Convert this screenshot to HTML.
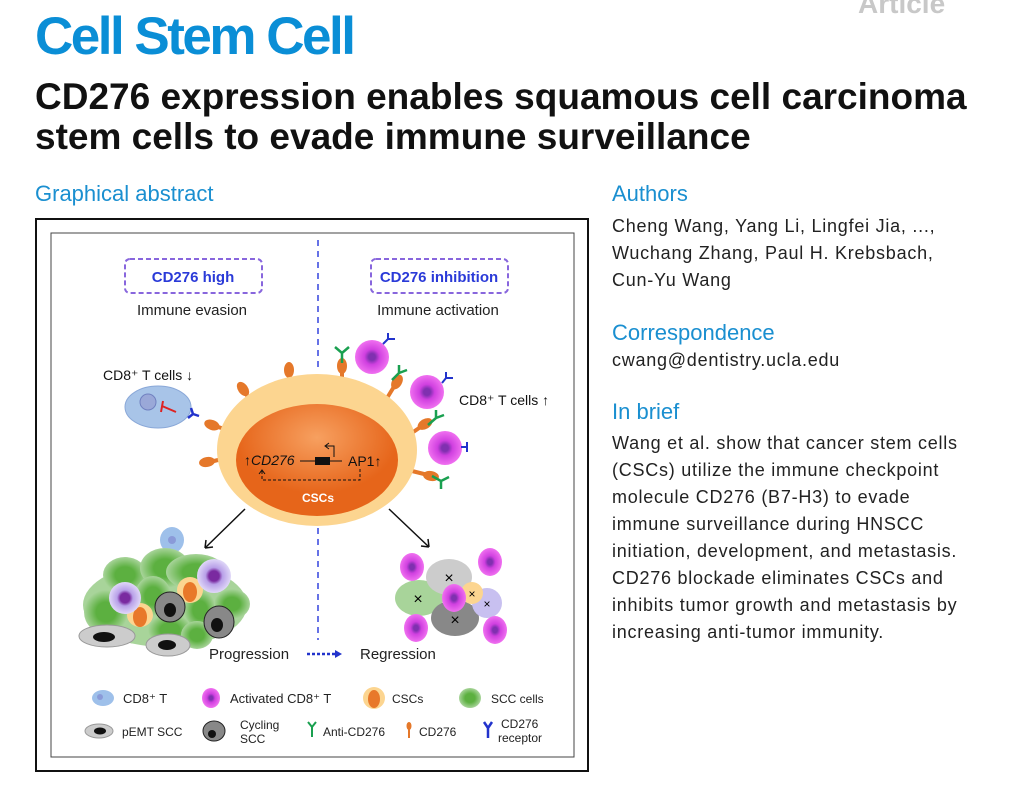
<!DOCTYPE html>
<html><head><meta charset="utf-8"><style>
body{margin:0;width:1025px;height:785px;background:#fff;font-family:"Liberation Sans",sans-serif;overflow:hidden;position:relative}
.a{position:absolute;white-space:nowrap}
.h{color:#1a8fd0;font-size:22px}
.p{font-size:18px;line-height:27px;color:#222;letter-spacing:0.75px}
</style></head><body>
<div class="a" style="left:858px;top:-12px;font-size:28px;font-weight:bold;color:#c8c8c8">Article</div>
<div class="a" style="left:35px;top:6px;font-size:53px;font-weight:bold;color:#0a8ed6;letter-spacing:-2.5px">Cell Stem Cell</div>
<div class="a" style="left:35px;top:77px;font-size:37px;font-weight:bold;color:#111;line-height:40px;letter-spacing:0px">CD276 expression enables squamous cell carcinoma<br>stem cells to evade immune surveillance</div>
<div class="a h" style="left:612px;top:181px;">Authors</div>
<div class="a h" style="left:35px;top:181px">Graphical abstract</div>
<div class="a p" style="left:612px;top:213px">Cheng Wang, Yang Li, Lingfei Jia, ...,<br>Wuchang Zhang, Paul H. Krebsbach,<br>Cun-Yu Wang</div>
<div class="a h" style="left:612px;top:320px">Correspondence</div>
<div class="a p" style="left:612px;top:347px">cwang@dentistry.ucla.edu</div>
<div class="a h" style="left:612px;top:399px">In brief</div>
<div class="a p" style="left:612px;top:430px">Wang et al. show that cancer stem cells<br>(CSCs) utilize the immune checkpoint<br>molecule CD276 (B7-H3) to evade<br>immune surveillance during HNSCC<br>initiation, development, and metastasis.<br>CD276 blockade eliminates CSCs and<br>inhibits tumor growth and metastasis by<br>increasing anti-tumor immunity.</div>
<svg class="a" style="left:0;top:0" width="600" height="785" font-family="Liberation Sans, sans-serif">
<defs>
<radialGradient id="mg"><stop offset="0.2" stop-color="#8030b0"/><stop offset="0.45" stop-color="#d040e0"/><stop offset="1" stop-color="#f070f0"/></radialGradient>
<radialGradient id="og" cx="0.5" cy="0.3"><stop offset="0" stop-color="#f7a060"/><stop offset="1" stop-color="#e6651a"/></radialGradient>
<radialGradient id="gg"><stop offset="0.45" stop-color="#5cb040"/><stop offset="1" stop-color="#a8d49a"/></radialGradient>
<radialGradient id="pg"><stop offset="0.3" stop-color="#7a2aa0"/><stop offset="0.5" stop-color="#b8a0e8"/><stop offset="1" stop-color="#e0d8f8"/></radialGradient>
</defs>
<rect x="36" y="219" width="552" height="552" fill="none" stroke="#111" stroke-width="2"/>
<rect x="51" y="233" width="523" height="524" fill="none" stroke="#444" stroke-width="1"/>
<line x1="318" y1="240" x2="318" y2="372" stroke="#3344dd" stroke-width="1.5" stroke-dasharray="6,5"/>
<line x1="318" y1="528" x2="318" y2="640" stroke="#3344dd" stroke-width="1.5" stroke-dasharray="6,5"/>
<rect x="125" y="259" width="137" height="34" rx="5" fill="none" stroke="#8866dd" stroke-width="2" stroke-dasharray="5,3"/>
<text x="193" y="282" text-anchor="middle" font-size="15" font-weight="bold" fill="#2a3ad8">CD276 high</text>
<text x="192" y="315" text-anchor="middle" font-size="15" fill="#222">Immune evasion</text>
<rect x="371" y="259" width="137" height="34" rx="5" fill="none" stroke="#8866dd" stroke-width="2" stroke-dasharray="5,3"/>
<text x="439" y="282" text-anchor="middle" font-size="15" font-weight="bold" fill="#2a3ad8">CD276 inhibition</text>
<text x="438" y="315" text-anchor="middle" font-size="15" fill="#222">Immune activation</text>
<g fill="#e5782a" stroke="#e5782a" stroke-width="4">
<line x1="290" y1="390" x2="289" y2="372"/><ellipse cx="289" cy="370" rx="5" ry="8" stroke="none"/>
<line x1="254" y1="406" x2="244" y2="391"/><ellipse cx="243" cy="389" rx="5" ry="8" stroke="none" transform="rotate(-35 243 389)"/>
<line x1="234" y1="432" x2="215" y2="426"/><ellipse cx="212" cy="425" rx="8" ry="5" stroke="none" transform="rotate(20 212 425)"/>
<line x1="226" y1="458" x2="210" y2="462"/><ellipse cx="207" cy="462" rx="8" ry="5" stroke="none" transform="rotate(-10 207 462)"/>
<line x1="342" y1="388" x2="342" y2="368"/><ellipse cx="342" cy="366" rx="5" ry="8" stroke="none"/>
<line x1="384" y1="403" x2="395" y2="385"/><ellipse cx="397" cy="382" rx="5" ry="8" stroke="none" transform="rotate(30 397 382)"/>
<line x1="406" y1="437" x2="422" y2="426"/><ellipse cx="425" cy="424" rx="8" ry="5" stroke="none" transform="rotate(-30 425 424)"/>
<line x1="408" y1="470" x2="428" y2="475"/><ellipse cx="431" cy="476" rx="8" ry="5" stroke="none" transform="rotate(10 431 476)"/>
</g>
<ellipse cx="317" cy="450" rx="100" ry="76" fill="#fcd590"/>
<ellipse cx="317" cy="460" rx="81" ry="56" fill="url(#og)"/>
<text x="244" y="465" font-size="14" fill="#111">↑<tspan font-style="italic">CD276</tspan></text>
<line x1="300" y1="461" x2="342" y2="461" stroke="#111"/><rect x="315" y="457" width="15" height="8" fill="#111"/>
<path d="M334,457 V446 H326 M329,443 L325,446 L329,449" fill="none" stroke="#111" stroke-width="1"/>
<text x="348" y="466" font-size="14" fill="#111">AP1↑</text>
<path d="M262,471 V480 H360 V469" fill="none" stroke="#111" stroke-dasharray="3,2"/>
<path d="M259,474 L262,470 L265,474" fill="none" stroke="#111"/>
<text x="318" y="502" text-anchor="middle" font-size="12" font-weight="bold" fill="#fff">CSCs</text>
<text x="103" y="380" font-size="14" fill="#111">CD8⁺ T cells ↓</text>
<ellipse cx="158" cy="407" rx="33" ry="21" fill="#a8c4e8" stroke="#8aa8d8"/>
<circle cx="148" cy="402" r="8" fill="#9aa8d8" stroke="#7080c0"/>
<path d="M162,406 L176,412 M163,401 L161,412" stroke="#dd2222" stroke-width="2"/>
<path d="M188,418 L193,414 M193,414 L191,408 M193,414 L199,416" stroke="#2233cc" stroke-width="2.5" fill="none"/>
<ellipse cx="372" cy="357" rx="17" ry="17" fill="url(#mg)"/>
<ellipse cx="427" cy="392" rx="17" ry="17" fill="url(#mg)"/>
<ellipse cx="445" cy="448" rx="17" ry="17" fill="url(#mg)"/>
<g stroke="#1aa050" stroke-width="2.5" fill="none">
<path d="M342,363 V353 M342,353 L335,347 M342,353 L349,347"/>
<path d="M392,380 L399,373 M399,373 V365 M399,373 L407,370"/>
<path d="M428,425 L436,418 M436,418 L436,410 M436,418 L444,415"/>
<path d="M432,476 L441,481 M441,481 L449,477 M441,481 L441,489"/>
</g>
<g stroke="#2233cc" stroke-width="2" fill="none">
<path d="M383,344 L388,339 M388,339 H395 M388,339 V333"/>
<path d="M442,383 L446,378 M446,378 H453 M446,378 V372"/>
<path d="M461,447 H467 M467,447 V442 M467,447 V452"/>
</g>
<text x="459" y="405" font-size="14" fill="#111">CD8⁺ T cells ↑</text>
<path d="M245,509 L205,548 M205,548 L206,540 M205,548 L213,547" stroke="#111" stroke-width="1.5" fill="none"/>
<path d="M389,509 L429,547 M429,547 L421,546 M429,547 L428,539" stroke="#111" stroke-width="1.5" fill="none"/>
<ellipse cx="172" cy="540" rx="12" ry="13" fill="#9ec0ea"/><circle cx="172" cy="540" r="4" fill="#8a9ad8"/>
<ellipse cx="165" cy="605" rx="82" ry="42" fill="#a8d49a"/>
<ellipse cx="125" cy="575" rx="22" ry="18" fill="url(#gg)"/>
<ellipse cx="165" cy="568" rx="25" ry="20" fill="url(#gg)"/>
<ellipse cx="196" cy="572" rx="30" ry="18" fill="url(#gg)"/>
<ellipse cx="106" cy="612" rx="22" ry="22" fill="url(#gg)"/>
<ellipse cx="153" cy="596" rx="18" ry="20" fill="url(#gg)"/>
<ellipse cx="200" cy="610" rx="16" ry="20" fill="url(#gg)"/>
<ellipse cx="170" cy="630" rx="22" ry="16" fill="url(#gg)"/>
<ellipse cx="232" cy="604" rx="18" ry="15" fill="url(#gg)"/>
<ellipse cx="197" cy="635" rx="16" ry="14" fill="url(#gg)"/>
<ellipse cx="190" cy="590" rx="13" ry="13" fill="#fcd590"/><ellipse cx="190" cy="592" rx="7" ry="10" fill="#e8782a"/>
<ellipse cx="140" cy="615" rx="13" ry="12" fill="#fcd590"/><ellipse cx="140" cy="617" rx="7" ry="10" fill="#e8782a"/>
<circle cx="125" cy="598" r="16" fill="url(#pg)"/>
<circle cx="214" cy="576" r="17" fill="url(#pg)"/>
<ellipse cx="170" cy="607" rx="15" ry="15" fill="#888" stroke="#222"/><ellipse cx="170" cy="610" rx="6" ry="7" fill="#111"/>
<ellipse cx="219" cy="622" rx="15" ry="16" fill="#888" stroke="#222"/><ellipse cx="217" cy="625" rx="6" ry="7" fill="#111"/>
<ellipse cx="107" cy="636" rx="28" ry="11" fill="#ccc" stroke="#999"/><ellipse cx="104" cy="637" rx="11" ry="5" fill="#111"/>
<ellipse cx="168" cy="645" rx="22" ry="11" fill="#ccc" stroke="#999"/><ellipse cx="167" cy="645" rx="9" ry="5" fill="#111"/>
<ellipse cx="419" cy="598" rx="24" ry="18" fill="#a8d49a"/><text x="418" y="604" font-size="16" text-anchor="middle">×</text>
<ellipse cx="449" cy="577" rx="23" ry="18" fill="#ccc"/><text x="449" y="583" font-size="16" text-anchor="middle">×</text>
<ellipse cx="455" cy="618" rx="24" ry="18" fill="#888"/><text x="455" y="625" font-size="16" text-anchor="middle">×</text>
<circle cx="487" cy="603" r="15" fill="#c8c0f0"/><text x="487" y="608" font-size="12" text-anchor="middle">×</text>
<circle cx="472" cy="593" r="11" fill="#fcd590"/><text x="472" y="598" font-size="12" text-anchor="middle">×</text>
<ellipse cx="454" cy="598" rx="12" ry="14" fill="url(#mg)"/>
<ellipse cx="412" cy="567" rx="12" ry="14" fill="url(#mg)"/>
<ellipse cx="490" cy="562" rx="12" ry="14" fill="url(#mg)"/>
<ellipse cx="416" cy="628" rx="12" ry="14" fill="url(#mg)"/>
<ellipse cx="495" cy="630" rx="12" ry="14" fill="url(#mg)"/>
<text x="209" y="659" font-size="15" fill="#222">Progression</text>
<path d="M307,654 H335" stroke="#2233cc" stroke-width="2.5" stroke-dasharray="3,2"/><path d="M335,650 L342,654 L335,658Z" fill="#2233cc"/>
<text x="360" y="659" font-size="15" fill="#222">Regression</text>
<ellipse cx="103" cy="698" rx="11" ry="8" fill="#9ec0ea"/><circle cx="100" cy="697" r="3" fill="#8a9ad8"/>
<text x="123" y="703" font-size="13" fill="#222">CD8⁺ T</text>
<ellipse cx="211" cy="698" rx="9" ry="10" fill="url(#mg)"/>
<text x="230" y="703" font-size="13" fill="#222">Activated CD8⁺ T</text>
<ellipse cx="374" cy="698" rx="11" ry="11" fill="#fcd590"/><ellipse cx="374" cy="699" rx="6" ry="9" fill="#e8782a"/>
<text x="392" y="703" font-size="12" fill="#222">CSCs</text>
<ellipse cx="470" cy="698" rx="11" ry="10" fill="url(#gg)"/>
<text x="491" y="703" font-size="12" fill="#222">SCC cells</text>
<ellipse cx="99" cy="731" rx="14" ry="7" fill="#ccc" stroke="#999"/><ellipse cx="100" cy="731" rx="6" ry="3.5" fill="#111"/>
<text x="122" y="736" font-size="12" fill="#222">pEMT SCC</text>
<ellipse cx="214" cy="731" rx="11" ry="10" fill="#888" stroke="#222"/><circle cx="212" cy="734" r="4" fill="#111"/>
<text x="240" y="729" font-size="12" fill="#222">Cycling</text><text x="240" y="743" font-size="12" fill="#222">SCC</text>
<path d="M312,737 V727 M312,727 L308,722 M312,727 L316,722" stroke="#1aa050" stroke-width="2" fill="none"/>
<text x="323" y="736" font-size="12" fill="#222">Anti-CD276</text>
<line x1="409" y1="728" x2="409" y2="738" stroke="#e5782a" stroke-width="2"/><ellipse cx="409" cy="726" rx="2.5" ry="4" fill="#e5782a"/>
<text x="419" y="736" font-size="12" fill="#222">CD276</text>
<path d="M488,738 V728 M488,728 L484,722 M488,728 L492,722" stroke="#2233cc" stroke-width="2.5" fill="none"/>
<text x="501" y="728" font-size="12" fill="#222">CD276</text><text x="498" y="742" font-size="12" fill="#222">receptor</text>
</svg>
</body></html>
